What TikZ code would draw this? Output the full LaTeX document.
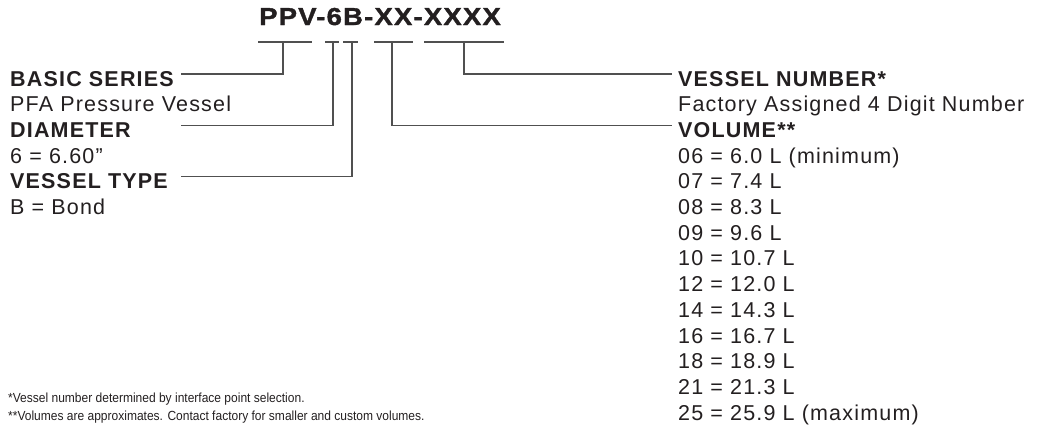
\documentclass[tikz,border=0pt]{standalone}
\usepackage{fontspec}
\setmainfont{Liberation Sans}[LetterSpace=5.5]
\newfontfamily\codefont{Liberation Sans}[FakeStretch=1.12, FakeBold=1.5, LetterSpace=5]
\newfontfamily\notefont{Liberation Sans}[FakeStretch=0.91]
\usetikzlibrary{positioning}
\definecolor{pnInk}{HTML}{231F20}
\definecolor{pnLine}{HTML}{505050}
\tikzset{
  codeLabel/.style={anchor=base, inner sep=0pt, text=pnInk,
                    font=\codefont\fontsize{24.5}{28}\selectfont\bfseries},
  fieldHead/.style={anchor=base west, inner sep=0pt, text=pnInk,
                    font=\fontsize{21.5}{25}\selectfont\bfseries},
  fieldText/.style={anchor=base west, inner sep=0pt, text=pnInk,
                    font=\fontsize{21.5}{25}\selectfont},
  footNote/.style={anchor=base west, inner sep=0pt, text=pnInk,
                   font=\notefont\fontsize{13.2}{15}\selectfont},
  lead/.style={draw=pnLine, line width=1.1pt},
}

\begin{document}
\begin{tikzpicture}[x=1pt, y=-1pt]
    \useasboundingbox (0,0) rectangle (1038,429);
    % part number
    \node[codeLabel] (code) at (380,25) {PPV-6B-XX-XXXX};
    % underlines below each field of the code
    \foreach \a/\b in {258/312, 325/339, 343/358, 374/413, 424/504}
      \draw[lead] (\a,42) -- (\b,42);
    \coordinate (pSer) at (283,42);
    \coordinate (pDia) at (333,42);
    \coordinate (pTyp) at (352,42);
    \coordinate (pVol) at (392,42);
    \coordinate (pNum) at (464,42);

    % left column
    \node[fieldHead] (ser)  at (10,86)    {BASIC SERIES};
    \node[fieldText] (serT) at (10,111.7) {PFA Pressure Vessel};
    \node[fieldHead] (dia)  at (10,137.4) {DIAMETER};
    \node[fieldText] (diaT) at (10,163.1) {6 = 6.60”};
    \node[fieldHead] (typ)  at (10,188.8) {VESSEL TYPE};
    \node[fieldText] (typT) at (10,214.5) {B = Bond};
    \coordinate (eSer) at (181,74);
    \coordinate (eDia) at (181,125.4);
    \coordinate (eTyp) at (181,176.8);

    % right column
    \node[fieldHead] (num)  at (678,86)    {VESSEL NUMBER*};
    \node[fieldText] (numT) at (678,111.7) {Factory Assigned 4 Digit Number};
    \node[fieldHead] (vol)  at (678,137.4) {VOLUME**};
    \foreach \t [count=\i] in {06 = 6.0 L (minimum), 07 = 7.4 L, 08 = 8.3 L,
        09 = 9.6 L, 10 = 10.7 L, 12 = 12.0 L, 14 = 14.3 L, 16 = 16.7 L,
        18 = 18.9 L, 21 = 21.3 L, 25 = 25.9 L (maximum)}
      \node[fieldText] (vol\i) at (678,137.4+25.7*\i) {\t};
    \coordinate (eNum) at (672,74);
    \coordinate (eVol) at (672,125.4);

    % leaders
    \draw[lead] (pSer) |- (eSer);
    \draw[lead] (pDia) |- (eDia);
    \draw[lead] (pTyp) |- (eTyp);
    \draw[lead] (pVol) |- (eVol);
    \draw[lead] (pNum) |- (eNum);

    % footnotes
    \node[footNote] (fn1) at (8,402) {*Vessel number determined by interface point selection.};
    \node[footNote] (fn2) at (8,420) {**Volumes are approximates. Contact factory for smaller and custom volumes.};
\end{tikzpicture}
\end{document}
